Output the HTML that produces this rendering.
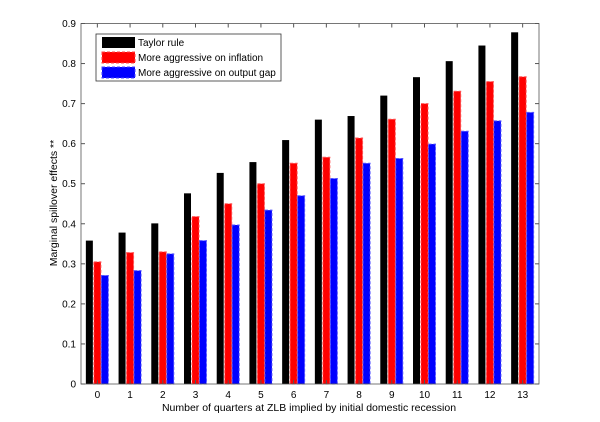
<!DOCTYPE html>
<html><head><meta charset="utf-8"><style>
body{margin:0;background:#fff;}
svg{display:block;font-family:"Liberation Sans",Arial,sans-serif;}
</style></head><body>
<svg id="chart" width="600" height="422">
<g id="bars"></g>
<g id="axes"></g>
<text x="57" y="203" font-size="10.5" text-anchor="middle" transform="rotate(-90 57 203)">Marginal spillover effects **</text>
<text x="309" y="411" font-size="10.5" text-anchor="middle">Number of quarters at ZLB implied by initial domestic recession</text>
<g>
<rect x="96" y="34" width="185" height="47" fill="#fff" stroke="#333" stroke-width="0.8"/>
<rect x="102" y="37" width="33" height="11" fill="#000"/>
<text x="138" y="46" font-size="10">Taylor rule</text>
<rect x="102" y="52" width="33" height="11" fill="#f00" stroke="#f44" stroke-dasharray="3,2"/>
<text x="138" y="61" font-size="10">More aggressive on inflation</text>
<rect x="102" y="67" width="33" height="11" fill="#00f" stroke="#44f" stroke-dasharray="3,2"/>
<text x="138" y="76" font-size="10">More aggressive on output gap</text>
</g>
</svg>
<script>
const categories=[0,1,2,3,4,5,6,7,8,9,10,11,12,13];
const taylor=[.358,.378,.401,.476,.527,.554,.609,.660,.669,.720,.766,.806,.845,.878];
const inflation=[.305,.328,.330,.418,.450,.500,.551,.566,.614,.661,.700,.731,.755,.767];
const outputGap=[.271,.283,.325,.358,.397,.434,.470,.513,.551,.563,.599,.631,.657,.678];
const yTicks=[0,0.1,0.2,0.3,0.4,0.5,0.6,0.7,0.8,0.9];
const L=81,R=539,T=23.5,B=384;
const NS="http://www.w3.org/2000/svg";
function x(i){return L+(i+0.5)*(R-L)/categories.length;}
function y(v){return B-(v/0.9)*(B-T);}
const bars=document.getElementById('bars'),axes=document.getElementById('axes');
function mk(tag,at,parent){const e=document.createElementNS(NS,tag);for(const k in at)e.setAttribute(k,at[k]);parent.appendChild(e);return e;}
const series=[[taylor,-8,'#000','none','taylor'],[inflation,0,'#f00','#f55','inflation'],[outputGap,7.5,'#00f','#55f','outputgap']];
categories.forEach((c,i)=>{
 series.forEach(s=>{
  const v=s[0][i];
  const r=mk('rect',{x:x(i)+s[1]-3.5,y:y(v),width:7,height:B-y(v),fill:s[2]},bars);
  if(s[3]!=='none'){r.setAttribute('stroke',s[3]);r.setAttribute('stroke-dasharray','3,2');r.setAttribute('stroke-width','1');}
  
  
 });
});
mk('rect',{x:L,y:T,width:R-L,height:B-T,fill:'none',stroke:'#555','stroke-width':0.8},axes);
yTicks.forEach(t=>{
 mk('line',{x1:L,x2:L+4,y1:y(t),y2:y(t),stroke:'#555'},axes);
 mk('line',{x1:R,x2:R-4,y1:y(t),y2:y(t),stroke:'#555'},axes);
 const tx=mk('text',{x:L-5,y:y(t)+3.5,'font-size':10,'text-anchor':'end'},axes);
 tx.textContent=String(t);
 
 
});
categories.forEach((c,i)=>{
 mk('line',{x1:x(i),x2:x(i),y1:B,y2:B-4,stroke:'#555'},axes);
 mk('line',{x1:x(i),x2:x(i),y1:T,y2:T+4,stroke:'#555'},axes);
 const tx=mk('text',{x:x(i),y:B+14,'font-size':10,'text-anchor':'middle'},axes);
 tx.textContent=String(c);
 
 
});
</script>
</body></html>
